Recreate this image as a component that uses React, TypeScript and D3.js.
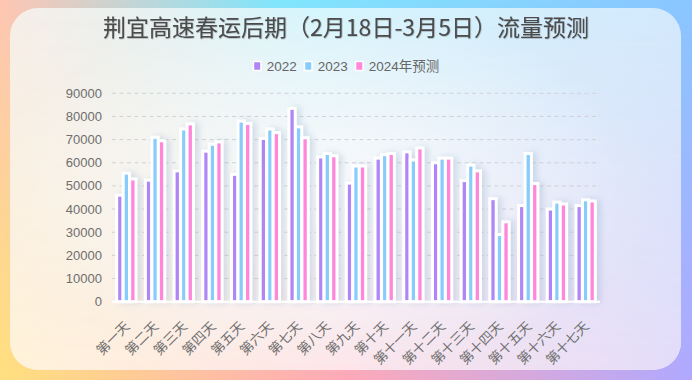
import React, { useMemo } from 'react';
import * as d3 from 'd3';

const categories = ['第一天', '第二天', '第三天', '第四天', '第五天', '第六天', '第七天', '第八天', '第九天', '第十天', '第十一天', '第十二天', '第十三天', '第十四天', '第十五天', '第十六天', '第十七天'];
const seriesNames = ['2022', '2023', '2024年预测'];
const values2022 = [46000, 52500, 56500, 65000, 55000, 70500, 83500, 62500, 51200, 62000, 64700, 60000, 52300, 44500, 41500, 40000, 41500];
const values2023 = [55500, 71000, 74600, 68000, 78000, 74600, 75500, 64000, 58600, 63500, 61200, 62000, 59000, 29000, 64000, 43000, 44000];
const values2024 = [53000, 69500, 76800, 69000, 77000, 73000, 70800, 63000, 58600, 64000, 66400, 62000, 56500, 34500, 51000, 42200, 43500];
const yTicks = [0, 10000, 20000, 30000, 40000, 50000, 60000, 70000, 80000, 90000];
const colors = ['#b086f6', '#88ccfb', '#ff86d9'];
const title = '荆宜高速春运后期（2月18日-3月5日）流量预测';

const FONT = '"Liberation Sans", "Noto Sans CJK SC", sans-serif';
const CJK = '"Noto Sans CJK SC", sans-serif';

function measure(text: string, font: string) {
  const c = document.createElement('canvas').getContext('2d');
  if (!c) return text.length * 8;
  c.font = font;
  return c.measureText(text).width;
}

export default function App() {
  const W = 692, H = 380;
  const series = [values2022, values2023, values2024];
  const x0 = d3.scaleBand<string>().domain(categories).range([112, 600]).paddingInner(0.32).paddingOuter(0.16);
  const x1 = d3.scaleBand<string>().domain(seriesNames).range([0, x0.bandwidth()]);
  const y = d3.scaleLinear().domain([0, 90000]).range([301.7, 93.3]);
  const barW = 6.3;
  const legendSize = 13.5;

  const legend = useMemo(() => {
    const items: { name: string; x: number; tx: number; color: string }[] = [];
    const widths = seriesNames.map((n) => measure(n, `${legendSize}px ${FONT}`));
    const iconW = 9, pad = 5, gap = 7;
    const total = widths.reduce((a, w) => a + iconW + pad + w, 0) + gap * (seriesNames.length - 1);
    let cx = 346 - total / 2;
    seriesNames.forEach((n, i) => {
      items.push({ name: n, x: cx, tx: cx + iconW + pad, color: colors[i] });
      cx += iconW + pad + widths[i] + gap;
    });
    return items;
  }, []);

  return (
    <svg width={W} height={H} style={{ position: 'absolute', left: 0, top: 0 }} xmlns="http://www.w3.org/2000/svg">
      <defs>
        <linearGradient id="oTop" x1="0" y1="0" x2="1" y2="0">
          <stop offset="0" stopColor="#ffc6b3" />
          <stop offset="0.4" stopColor="#80e6fd" />
          <stop offset="1" stopColor="#8ac6ff" />
        </linearGradient>
        <linearGradient id="oBot" x1="0" y1="0" x2="1" y2="0">
          <stop offset="0" stopColor="#ffe07e" />
          <stop offset="0.5" stopColor="#ffa8b8" />
          <stop offset="1" stopColor="#b0a8ff" />
        </linearGradient>
        <linearGradient id="vMask" x1="0" y1="0" x2="0" y2="1">
          <stop offset="0" stopColor="#fff" stopOpacity="0" />
          <stop offset="1" stopColor="#fff" stopOpacity="1" />
        </linearGradient>
        <mask id="mOuter">
          <rect x="0" y="0" width={W} height={H} fill="url(#vMask)" />
        </mask>
        <linearGradient id="iTop" x1="0" y1="0" x2="1" y2="0">
          <stop offset="0" stopColor="#f7eee8" />
          <stop offset="0.45" stopColor="#d6f6fd" />
          <stop offset="1" stopColor="#d3e9fc" />
        </linearGradient>
        <linearGradient id="iBot" x1="0" y1="0" x2="1" y2="0">
          <stop offset="0" stopColor="#fff2d8" />
          <stop offset="0.5" stopColor="#fde5ea" />
          <stop offset="1" stopColor="#e3dcfa" />
        </linearGradient>
        <mask id="mInner">
          <rect x="0" y="8" width={W} height={362} fill="url(#vMask)" />
        </mask>
        <radialGradient id="glow" cx="0.47" cy="0.5" r="0.5">
          <stop offset="0" stopColor="#ffffff" stopOpacity="0.75" />
          <stop offset="1" stopColor="#ffffff" stopOpacity="0" />
        </radialGradient>
        <filter id="barShadow" x="-20%" y="-20%" width="140%" height="140%">
          <feDropShadow dx="4" dy="0" stdDeviation="3" floodColor="#93acc8" floodOpacity="0.35" />
        </filter>
        <filter id="titleShadow" x="-5%" y="-20%" width="110%" height="140%">
          <feDropShadow dx="0.5" dy="0.5" stdDeviation="0.6" floodColor="#000" floodOpacity="0.35" />
        </filter>
      </defs>

      <rect x="0" y="0" width={W} height={H} fill="url(#oTop)" />
      <rect x="0" y="0" width={W} height={H} fill="url(#oBot)" mask="url(#mOuter)" />

      <g>
        <rect x="10" y="8" width="671" height="362" rx="28" fill="url(#iTop)" />
        <rect x="10" y="8" width="671" height="362" rx="28" fill="url(#iBot)" mask="url(#mInner)" />
        <rect x="10" y="8" width="671" height="362" rx="28" fill="url(#glow)" />
      </g>

      <text x={346} y={36} textAnchor="middle" fontFamily={CJK} fontSize={23} fill="#4b4b4b" filter="url(#titleShadow)">
        {title}
      </text>

      {legend.map((l) => (
        <g key={l.name}>
          <rect x={l.x + 0.75} y={61.5} width={7.5} height={9} fill={l.color} stroke="#fff" strokeWidth={1.5} />
          <text x={l.tx} y={66.5} dominantBaseline="central" fontFamily={FONT} fontSize={legendSize} fill="#666">
            {l.name}
          </text>
        </g>
      ))}

      {yTicks.map((t) => (
        <g key={t}>
          {t > 0 && (
            <line x1={112} x2={600} y1={y(t)} y2={y(t)} stroke="#cfd2d6" strokeWidth={1} strokeDasharray="4,3.5" />
          )}
          <text x={102} y={y(t)} textAnchor="end" dominantBaseline="central" fontFamily={FONT} fontSize={13} fill="#6e6e6e">
            {t}
          </text>
        </g>
      ))}

      <g filter="url(#barShadow)">
        {categories.map((c, ci) =>
          seriesNames.map((s, si) => {
            const v = series[si][ci];
            const bx = (x0(c) ?? 0) + (x1(s) ?? 0) + (x1.bandwidth() - barW) / 2;
            return (
              <rect key={c + s} x={bx} y={y(v)} width={barW} height={y(0) - y(v)} fill={colors[si]} stroke="#fff" strokeWidth={3} />
            );
          })
        )}
      </g>

      <line x1={112} x2={600} y1={y(0)} y2={y(0)} stroke="#fff" strokeWidth={2} />

      {categories.map((c) => {
        const cx = (x0(c) ?? 0) + x0.bandwidth() / 2;
        return (
          <text key={c} transform={`translate(${cx},${323}) rotate(-45)`} textAnchor="end" dominantBaseline="central" fontFamily={CJK} fontSize={13.5} fill="#707070">
            {c}
          </text>
        );
      })}
    </svg>
  );
}
